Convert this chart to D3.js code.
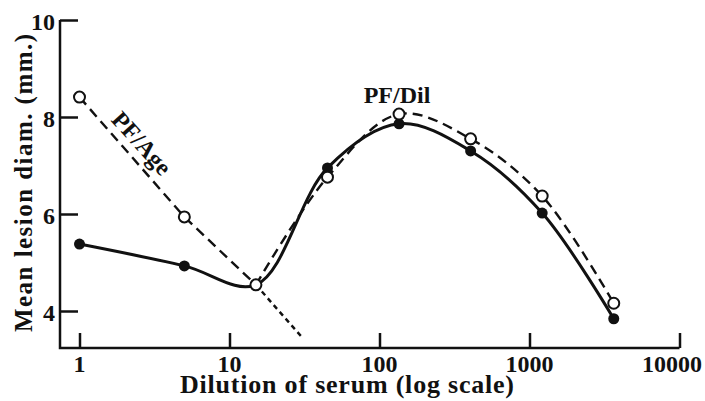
<!DOCTYPE html>
<html>
<head>
<meta charset="utf-8">
<script src="https://cdn.jsdelivr.net/npm/d3@7"></script>
<style>
    body { margin: 0; background: #fff; }
    svg text { font-family: "Liberation Serif", "DejaVu Serif", serif; font-weight: bold; fill: #111; }
</style>
</head>
<body>
<div class="svg-content"></div>
<script>

//--- Data --------------------------------------------------------------------------------------------------   //

var dilutions   = [1, 5, 15, 45, 135, 405, 1215, 3645];
var openValues  = [8.41, 5.94, 4.54, 6.76, 8.06, 7.55, 6.37, 4.16];   // open circles: PF/Age (1-15) then PF/Dil
var dotValues   = [5.38, 4.93, 4.54, 6.95, 7.86, 7.30, 6.02, 3.84];   // filled circles
var ageExtDil   = [15, 30];                                           // dotted extrapolation of PF/Age
var ageExtVal   = [4.54, 3.48];
var xTicks      = [1, 10, 100, 1000, 10000];
var xTickLabels = ["1", "10", "100", "1000", "10000"];
var yTicks      = [4, 6, 8, 10];


//--- Setup -------------------------------------------------------------------------------------------------   //

var width = 705, height = 401;

var x = d3.scaleLog()
    .domain([1, 10000])
    .range([79.5, 679.5]);

var y = d3.scaleLinear()
    .domain([10, 4])
    .range([20, 311]);

var axisX = 60, axisY = 348;

var svg = d3.select(".svg-content")
    .append("svg")
    .attr("width", width)
    .attr("height", height);

var ink = "#111";


//--- Axes --------------------------------------------------------------------------------------------------   //

var xAxis = d3.axisTop(x)
    .tickValues(xTicks)
    .tickSize(15)
    .tickFormat("");

var gx = svg.append("g")
    .attr("transform", "translate(0," + axisY + ")")
    .call(xAxis);
gx.select(".domain").remove();
gx.selectAll("line").attr("stroke", ink).attr("stroke-width", 2.5);

svg.selectAll(".xlab")
    .data(xTicks)
    .enter()
    .append("text")
    .attr("class", "xlab")
    .attr("x", function(d) { return x(d); })
    .attr("y", 372)
    .attr("text-anchor", "middle")
    .attr("font-size", 24)
    .text(function(d, i) { return xTickLabels[i]; })
    .each(function(d) {
        // keep the last label inside the page, like the original
        var half = this.getComputedTextLength() / 2;
        if (x(d) + half > width - 3) d3.select(this).attr("x", width - 3 - half);
    });

var yAxis = d3.axisRight(y)
    .tickValues(yTicks)
    .tickSize(18)
    .tickFormat("");

var gy = svg.append("g")
    .attr("transform", "translate(" + axisX + ",0)")
    .call(yAxis);
gy.select(".domain").remove();
gy.selectAll("line").attr("stroke", ink).attr("stroke-width", 2.5);

svg.selectAll(".ylab")
    .data(yTicks)
    .enter()
    .append("text")
    .attr("class", "ylab")
    .attr("x", 55)
    .attr("y", function(d) { return y(d) + 10; })
    .attr("text-anchor", "end")
    .attr("font-size", 24)
    .text(function(d) { return d; });

// axis lines
svg.append("path")
    .attr("d", "M" + axisX + "," + y(10) + "V" + axisY + "H" + x(10000))
    .attr("fill", "none")
    .attr("stroke", ink)
    .attr("stroke-width", 2.5);

svg.append("text")
    .attr("x", 347)
    .attr("y", 393)
    .attr("text-anchor", "middle")
    .attr("font-size", 26)
    .attr("textLength", 334)
    .attr("lengthAdjust", "spacing")
    .text("Dilution of serum (log scale)");

svg.append("text")
    .attr("transform", "translate(32,183) rotate(-90)")
    .attr("text-anchor", "middle")
    .attr("font-size", 25)
    .attr("textLength", 298)
    .attr("lengthAdjust", "spacing")
    .text("Mean lesion diam. (mm.)");


//--- Lines -------------------------------------------------------------------------------------------------   //

var line = d3.line()
    .x(function(d) { return x(d[0]); })
    .y(function(d) { return y(d[1]); });

var dotPts  = d3.zip(dilutions, dotValues);
var openPts = d3.zip(dilutions, openValues);

// PF/Age, dashed straight
svg.append("path")
    .attr("d", line.curve(d3.curveLinear)(openPts.slice(0, 3)))
    .attr("fill", "none")
    .attr("stroke", ink)
    .attr("stroke-width", 2.4)
    .attr("stroke-dasharray", "10,6");

svg.append("path")
    .attr("d", line.curve(d3.curveLinear)(d3.zip(ageExtDil, ageExtVal)))
    .attr("fill", "none")
    .attr("stroke", ink)
    .attr("stroke-width", 2.4)
    .attr("stroke-dasharray", "5,4");

// PF/Dil, dashed curve
svg.append("path")
    .attr("d", line.curve(d3.curveCatmullRom)(openPts.slice(2)))
    .attr("fill", "none")
    .attr("stroke", ink)
    .attr("stroke-width", 2.4)
    .attr("stroke-dasharray", "10,6");

// solid curve through filled points
svg.append("path")
    .attr("d", line.curve(d3.curveCatmullRom)(dotPts))
    .attr("fill", "none")
    .attr("stroke", ink)
    .attr("stroke-width", 3);


//--- Points ------------------------------------------------------------------------------------------------   //

svg.selectAll(".dot")
    .data(dotPts)
    .enter()
    .append("circle")
    .attr("class", "dot")
    .attr("cx", function(d) { return x(d[0]); })
    .attr("cy", function(d) { return y(d[1]); })
    .attr("r", 5.5)
    .attr("fill", ink);

svg.selectAll(".open")
    .data(openPts)
    .enter()
    .append("circle")
    .attr("class", "open")
    .attr("cx", function(d) { return x(d[0]); })
    .attr("cy", function(d) { return y(d[1]); })
    .attr("r", 5.5)
    .attr("fill", "#fff")
    .attr("stroke", ink)
    .attr("stroke-width", 2);


//--- Labels ------------------------------------------------------------------------------------------------   //

svg.append("text")
    .attr("transform", "translate(142,143) rotate(48)")
    .attr("text-anchor", "middle")
    .attr("dy", "0.35em")
    .attr("font-size", 24)
    .text("PF/Age");

svg.append("text")
    .attr("x", 397)
    .attr("y", 103)
    .attr("text-anchor", "middle")
    .attr("font-size", 24)
    .text("PF/Dil");

</script>
</body>
</html>
